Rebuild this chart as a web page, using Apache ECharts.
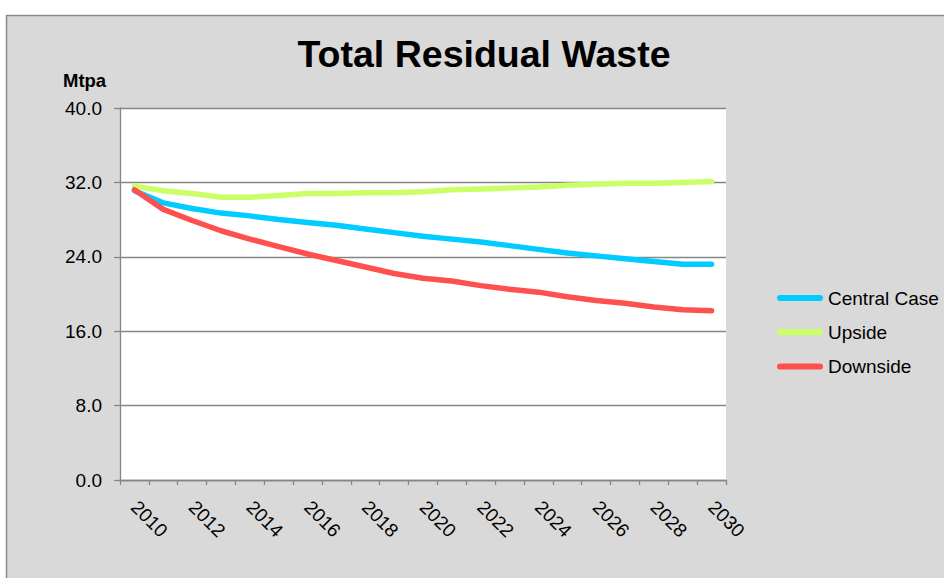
<!DOCTYPE html>
<html>
<head>
<meta charset="utf-8">
<script src="https://cdn.jsdelivr.net/npm/echarts@6/dist/echarts.min.js"></script>
<style>
  html, body { margin: 0; padding: 0; background: #ffffff; }
  #chart { width: 944px; height: 578px; }
</style>
</head>
<body>
<div id="chart"></div>
<script>
// Years on the category axis
const years = ['2010','2011','2012','2013','2014','2015','2016','2017','2018','2019','2020',
               '2021','2022','2023','2024','2025','2026','2027','2028','2029','2030'];

// Residual waste projections, million tonnes per annum
const centralCase = [31.1, 29.8, 29.2, 28.7, 28.4, 28.0, 27.7, 27.4, 27.0, 26.6, 26.2,
                     25.9, 25.6, 25.2, 24.8, 24.4, 24.1, 23.8, 23.5, 23.2, 23.2];
const upside      = [31.6, 31.1, 30.8, 30.4, 30.4, 30.6, 30.8, 30.8, 30.9, 30.9, 31.0,
                     31.2, 31.3, 31.4, 31.5, 31.7, 31.8, 31.9, 31.9, 32.0, 32.1];
const downside    = [31.2, 29.1, 27.9, 26.8, 25.9, 25.1, 24.3, 23.6, 22.9, 22.2, 21.7,
                     21.4, 20.9, 20.5, 20.2, 19.7, 19.3, 19.0, 18.6, 18.3, 18.2];

const seriesNames = ['Central Case', 'Upside', 'Downside'];
const seriesColors = ['#00ccff', '#ccff66', '#ff5050'];
const seriesData = [centralCase, upside, downside];

const chartTitle = 'Total Residual Waste';
const unitLabel = 'Mtpa';

const FONT = '"Liberation Sans", Arial, sans-serif';
const AXIS_GREY = '#868686';

const chart = echarts.init(document.getElementById('chart'), null, { renderer: 'svg' });

chart.setOption({
  animation: false,
  backgroundColor: '#ffffff',
  textStyle: { fontFamily: FONT },
  graphic: [
    {
      type: 'rect',
      z: -100,
      shape: { x: 6.5, y: 15.5, width: 1000, height: 1000 },
      style: { fill: '#d9d9d9', stroke: '#8c8c8c', lineWidth: 1.5 }
    },
    {
      type: 'text',
      x: 484, y: 54.3,
      style: {
        text: chartTitle,
        font: 'bold 37.5px ' + FONT,
        fill: '#000000',
        textAlign: 'center',
        textVerticalAlign: 'middle'
      }
    },
    {
      type: 'text',
      x: 63, y: 80.3,
      style: {
        text: unitLabel,
        font: 'bold 18.5px ' + FONT,
        fill: '#000000',
        textAlign: 'left',
        textVerticalAlign: 'middle'
      }
    }
  ],
  grid: {
    left: 120, right: 218, top: 108, bottom: 98,
    show: true, backgroundColor: '#ffffff', borderWidth: 0,
    containLabel: false,
    outerBoundsMode: 'none'
  },
  legend: {
    orient: 'vertical',
    left: 777, top: 288.5,
    padding: 0,
    itemWidth: 46, itemHeight: 6, itemGap: 15.3,
    selectedMode: false,
    icon: 'path://M3,0H43A3,3,0,0,1,43,6H3A3,3,0,0,1,3,0Z',
    textStyle: { fontSize: 19, color: '#000000', fontFamily: FONT },
    data: seriesNames
  },
  xAxis: {
    type: 'category',
    data: years,
    boundaryGap: true,
    axisLine: { show: true, lineStyle: { color: AXIS_GREY, width: 1.3 } },
    axisTick: { show: true, interval: 0, length: 5, lineStyle: { color: AXIS_GREY, width: 1.3 } },
    axisLabel: {
      interval: 1, rotate: -45, margin: 24,
      fontSize: 19, color: '#000000', fontFamily: FONT
    },
    splitLine: { show: false }
  },
  yAxis: {
    type: 'value',
    min: 0, max: 40, interval: 8,
    axisLine: { show: true, lineStyle: { color: AXIS_GREY, width: 1.3 } },
    axisTick: { show: true, length: 6, lineStyle: { color: AXIS_GREY, width: 1.3 } },
    axisLabel: {
      margin: 18, fontSize: 19, color: '#000000', fontFamily: FONT,
      formatter: v => v.toFixed(1)
    },
    splitLine: { show: true, lineStyle: { color: AXIS_GREY, width: 1.3 } }
  },
  series: seriesNames.map((name, i) => ({
    name: name,
    type: 'line',
    data: seriesData[i],
    color: seriesColors[i],
    showSymbol: false,
    symbol: 'none',
    lineStyle: { color: seriesColors[i], width: 5.5, cap: 'round', join: 'round' },
    itemStyle: { color: seriesColors[i] },
    z: 2 + i
  }))
});
</script>
</body>
</html>
